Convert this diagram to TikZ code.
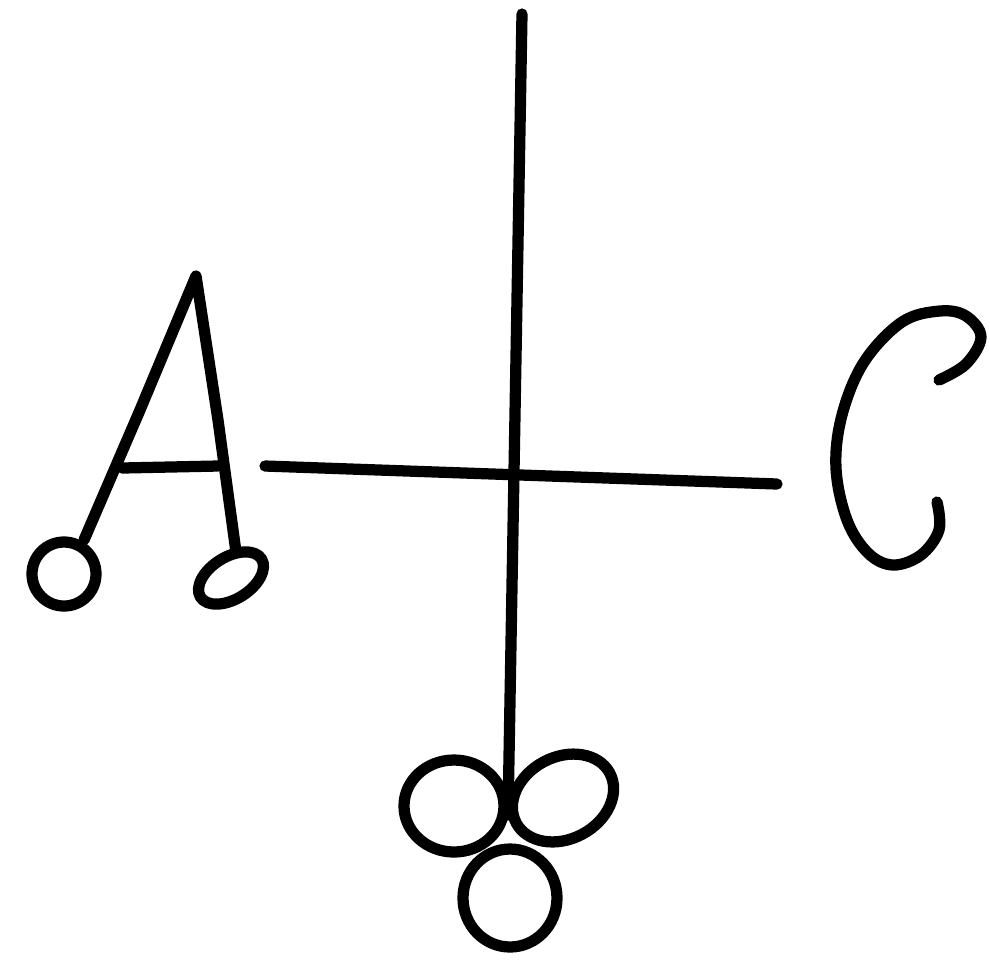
\documentclass[tikz,border=0pt]{standalone}
\usepackage{tikz}
\usetikzlibrary{calc}

\begin{document}
\begin{tikzpicture}[x=0.01cm, y=-0.01cm, ink/.style={draw, line width=3.2pt, line cap=round, line join=round}]
\useasboundingbox (0,0) rectangle (990,959);
% cross
\coordinate (top) at (522,14);
\coordinate (knot) at (508,815);
\coordinate (west) at (265,466);
\coordinate (east) at (777,484);
\draw[ink] (top) -- (knot);
\draw[ink] (west) -- (east);
% letter A with its two rings
\coordinate (apex) at (196,276);
\coordinate (lfoot) at (84,540);
\coordinate (rfoot) at (236,552);
\draw[ink] (lfoot) -- (140,410) -- (apex) -- (218,420) -- (rfoot);
\draw[ink] (122,468) -- (218,466);
\draw[ink] (64,574) circle (32);
\draw[ink, shift={(231,578)}, rotate=32] (0,0) ellipse (36 and 21);
% letter C
\draw[ink] plot[smooth, tension=0.6] coordinates {(939,380) (966,364) (981,337) (966,316) (940,311) (902,322) (864,362) (842,415) (836,468) (847,520) (868,553) (893,565) (921,555) (939,530) (937,502)};
% trefoil at the foot
\draw[ink] (454,806) ellipse (50 and 46);
\draw[ink, shift={(563,798)}, rotate=28] (0,0) ellipse (53 and 41);
\draw[ink] (510,898) ellipse (47 and 49);
\end{tikzpicture}
\end{document}
